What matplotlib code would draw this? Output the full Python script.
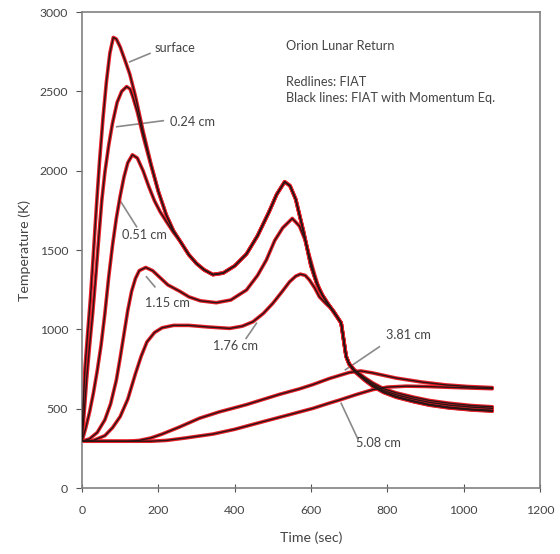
import matplotlib
matplotlib.use('Agg')
import matplotlib.pyplot as plt

plt.rcParams['font.family'] = ['Lato', 'DejaVu Sans']

# temperature histories (time in s, temperature in K)
t_surf = [0, 3, 8, 15, 22, 30, 38, 46, 55, 64, 73, 82, 90, 100, 112, 125, 140, 160, 180, 200, 221,
          240, 256, 280, 300, 320, 343, 370, 400, 431, 460, 490, 510, 531, 545, 560, 580, 600, 615,
          630, 645, 660, 679, 692, 700, 714, 740, 762, 790, 823, 870, 910, 960, 1020, 1075]
T_surf = [295, 520, 760, 980, 1190, 1480, 1780, 2060, 2330, 2560, 2740, 2840, 2830, 2780, 2700, 2610,
          2470, 2250, 2050, 1870, 1720, 1620, 1560, 1470, 1415, 1375, 1345, 1355, 1400, 1475, 1590,
          1740, 1850, 1930, 1905, 1820, 1620, 1400, 1290, 1215, 1160, 1110, 1040, 830, 780, 735,
          680, 640, 602, 572, 543, 522, 505, 492, 484]

t_024 = [0, 5, 12, 20, 28, 36, 44, 52, 60, 70, 80, 92, 104, 117, 126, 134, 145, 160, 180, 200, 221,
         240, 256, 280, 300, 320, 343, 370, 400, 431, 460, 490, 510, 531, 545, 560, 580, 600, 615,
         630, 645, 660, 679, 692, 700, 714, 740, 762, 790, 823, 870, 910, 960, 1020, 1075]
T_024 = [295, 450, 680, 900, 1100, 1330, 1580, 1815, 1990, 2160, 2300, 2430, 2500, 2530, 2515, 2460,
         2370, 2220, 2040, 1870, 1720, 1620, 1560, 1470, 1415, 1375, 1345, 1355, 1400, 1475, 1590,
         1740, 1850, 1930, 1905, 1820, 1620, 1400, 1290, 1215, 1160, 1110, 1040, 830, 780, 735,
         682, 642, 604, 574, 545, 524, 507, 494, 487]

t_051 = [0, 10, 20, 30, 40, 50, 60, 70, 80, 90, 100, 110, 120, 132, 145, 160, 175, 190, 205, 221,
         240, 256, 280, 300, 320, 343, 370, 400, 431, 460, 490, 510, 531, 545, 560, 580, 600, 615,
         630, 645, 660, 679, 692, 700, 714, 740, 762, 790, 823, 870, 910, 960, 1020, 1075]
T_051 = [295, 380, 480, 600, 740, 900, 1100, 1330, 1530, 1700, 1840, 1960, 2050, 2100, 2080, 2000,
         1900, 1810, 1740, 1680, 1610, 1560, 1470, 1415, 1375, 1345, 1355, 1400, 1475, 1590, 1740,
         1850, 1930, 1905, 1820, 1620, 1400, 1290, 1215, 1160, 1110, 1040, 830, 780, 737, 684,
         645, 607, 577, 548, 527, 510, 497, 490]

t_115 = [0, 20, 40, 60, 75, 90, 100, 110, 120, 130, 140, 150, 167, 185, 205, 225, 256, 280, 310,
         352, 390, 431, 460, 483, 505, 526, 551, 570, 585, 596, 610, 622, 640, 657, 679, 692, 700,
         714, 740, 762, 790, 823, 870, 910, 960, 1020, 1075]
T_115 = [295, 310, 350, 430, 530, 680, 820, 970, 1120, 1240, 1320, 1370, 1390, 1370, 1325, 1280,
         1240, 1205, 1180, 1168, 1185, 1248, 1340, 1437, 1560, 1640, 1699, 1650, 1560, 1460, 1340,
         1250, 1175, 1115, 1040, 830, 782, 740, 690, 652, 615, 588, 560, 540, 523, 510, 502]

t_176 = [0, 30, 60, 80, 100, 120, 140, 155, 170, 190, 210, 240, 280, 330, 387, 420, 448, 475, 500,
         525, 544, 560, 572, 585, 596, 610, 622, 640, 657, 679, 692, 700, 714, 740, 762, 790, 823,
         870, 910, 960, 1020, 1075]
T_176 = [295, 300, 330, 380, 450, 560, 720, 830, 920, 980, 1010, 1025, 1025, 1015, 1006, 1020, 1048,
         1100, 1164, 1240, 1300, 1335, 1348, 1340, 1311, 1260, 1205, 1160, 1122, 1040, 830, 785,
         745, 697, 662, 626, 600, 572, 552, 535, 520, 512]

t_381 = [0, 120, 150, 180, 210, 256, 308, 360, 430, 517, 570, 605, 648, 700, 730, 760, 823, 890,
         953, 1010, 1075]
T_381 = [295, 295, 300, 315, 340, 385, 440, 480, 525, 590, 625, 652, 690, 728, 738, 726, 693, 668,
         650, 640, 633]

t_508 = [0, 180, 221, 270, 343, 400, 474, 540, 605, 648, 674, 720, 762, 800, 850, 900, 960, 1020, 1075]
T_508 = [295, 295, 300, 315, 340, 370, 418, 460, 502, 535, 554, 590, 620, 636, 642, 640, 635, 630, 626]

curves = [(t_surf, T_surf), (t_024, T_024), (t_051, T_051), (t_115, T_115),
          (t_176, T_176), (t_381, T_381), (t_508, T_508)]

# depth labels: text, text position, leader start (text side), leader end (on curve)
labels = ['surface', '0.24 cm', '0.51 cm', '1.15 cm', '1.76 cm', '3.81 cm', '5.08 cm']
label_xy = [(191, 2775), (230, 2308), (104, 1594), (165, 1164), (343, 895), (797, 964), (718, 282)]
leader_from = [(178, 2739), (213, 2315), (143, 1647), (191, 1268), (430, 943), (779, 890), (722, 313)]
leader_to = [(125, 2686), (91, 2277), (99, 1815), (169, 1331), (457, 1038), (690, 745), (679, 534)]

notes = ['Orion Lunar Return', 'Redlines: FIAT', 'Black lines: FIAT with Momentum Eq.']
notes_y = [2787, 2560, 2455]

TXT = '#444444'

fig = plt.figure(figsize=(5.6, 5.54), dpi=100)
ax = fig.add_axes([0.1464, 0.1191, 0.8179, 0.8592])

for t, T in curves:
    ax.plot(t, T, color='#e8202a', lw=2.6, solid_capstyle='round', zorder=2)
for t, T in curves:
    ax.plot(t, T, color='#2a1414', lw=1.0, zorder=3)

for txt, xy, p0, p1 in zip(labels, label_xy, leader_from, leader_to):
    ax.plot([p0[0], p1[0]], [p0[1], p1[1]], color='#8a8a8a', lw=1.2, zorder=1)
    ax.text(xy[0], xy[1], txt, fontsize=9.2, color=TXT, ha='left', va='center', zorder=4)

for txt, y in zip(notes, notes_y):
    ax.text(535, y, txt, fontsize=9.2, color=TXT, va='center')

ax.set_xlim(0, 1200)
ax.set_ylim(0, 3000)
ax.set_xticks(range(0, 1201, 200))
ax.set_yticks(range(0, 3001, 500))
ax.set_xlabel('Time (sec)', fontsize=10.2, color=TXT, labelpad=11)
ax.set_ylabel('Temperature (K)', fontsize=10.2, color=TXT, labelpad=6)
ax.tick_params(axis='x', direction='inout', length=6, labelsize=8.8, colors='#555555',
               labelcolor=TXT, pad=9)
ax.tick_params(axis='y', direction='out', length=4, labelsize=8.8, colors='#555555',
               labelcolor=TXT, pad=6)
for s in ax.spines.values():
    s.set_color('#808080')
    s.set_linewidth(1.2)

fig.savefig('out.png', dpi=100)
